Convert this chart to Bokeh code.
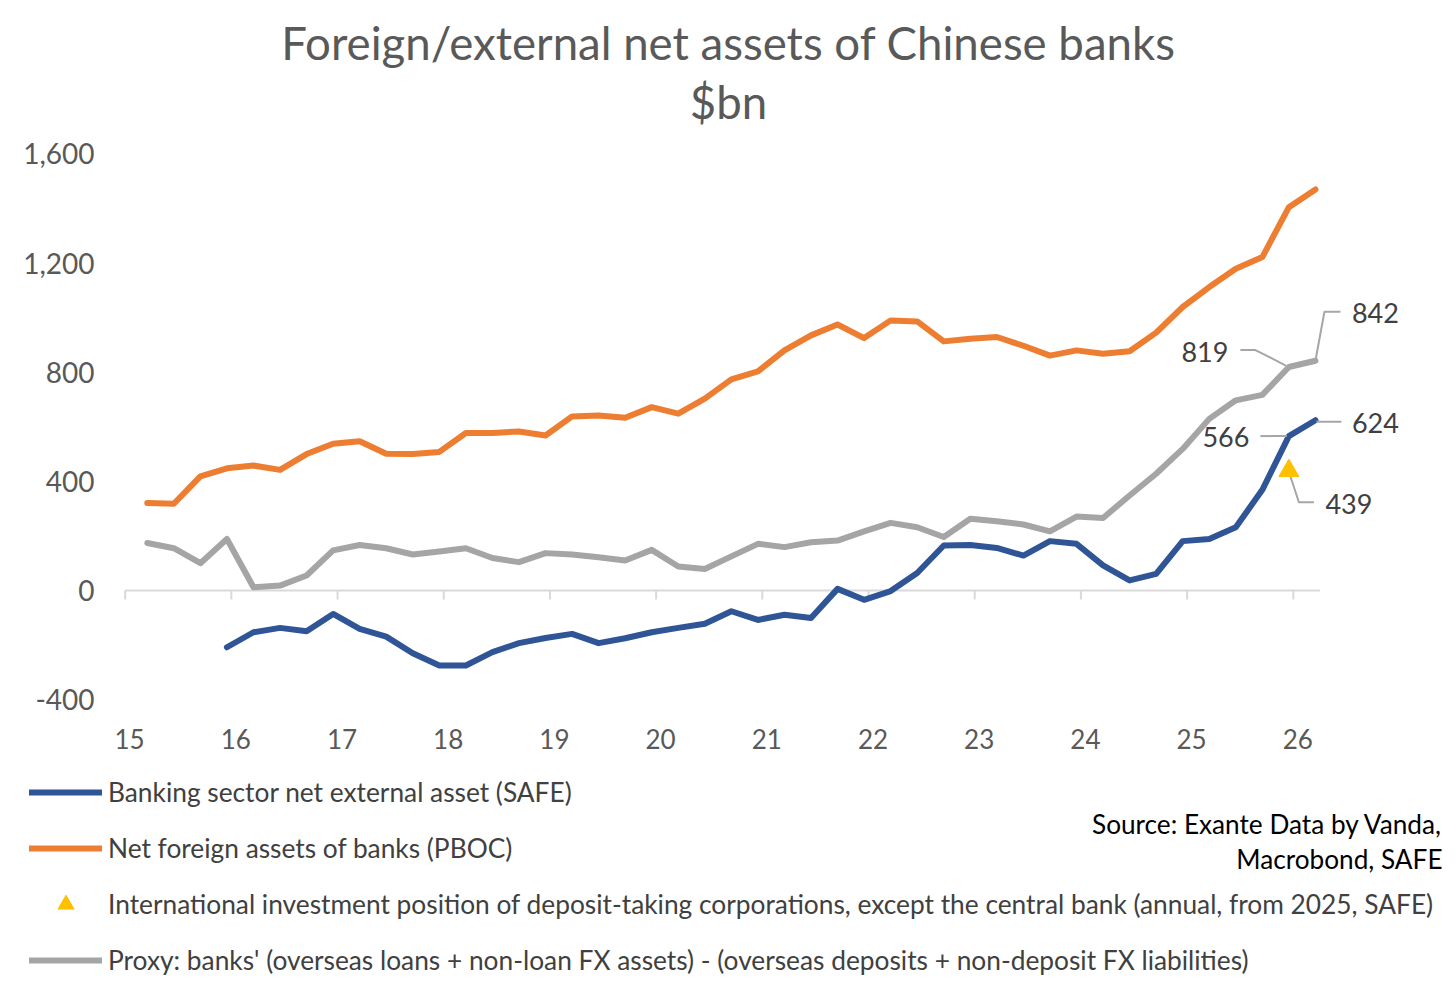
from bokeh.plotting import figure
from bokeh.models import (Range1d, FixedTicker, NumeralTickFormatter, CustomJSTickFormatter,
                          Legend, LegendItem, Label)
from bokeh.embed import file_html
from bokeh.resources import INLINE

# ---- data (quarter ends, $bn) ----
quarters = [f"{y}Q{q}" for y in range(2015, 2027) for q in (1, 2, 3, 4)][:45]  # 2015Q1 .. 2026Q1

pboc = [321, 318, 418, 448, 458, 442, 500, 538, 547, 501, 500, 508, 577, 577, 583,
        568, 638, 641, 633, 672, 648, 703, 774, 803, 880, 935, 975, 925, 990, 986,
        913, 923, 929, 897, 861, 880, 868, 877, 945, 1039, 1112, 1179, 1222, 1405, 1470]

proxy = [174, 155, 100, 189, 12, 18, 55, 147, 167, 155, 132, 143, 155, 119, 104,
         137, 132, 122, 110, 149, 88, 79, 125, 171, 159, 177, 183, 217, 248, 232,
         196, 263, 254, 242, 217, 271, 266, 348, 428, 519, 629, 697, 717, 819, 842]

safe_quarters = quarters[3:]  # from 2015Q4
safe = [-208, -153, -137, -149, -86, -141, -169, -230, -275, -275, -226, -193, -174, -159,
        -193, -175, -153, -137, -122, -76, -108, -89, -101, 6, -34, -2, 64, 165,
        167, 156, 128, 181, 171, 92, 37, 61, 181, 189, 232, 369, 566, 624]

iip_quarters = ["2025Q4"]
iip = [439]

tick_years = ["15", "16", "17", "18", "19", "20", "21", "22", "23", "24", "25", "26"]
y_ticks = [-400, 0, 400, 800, 1200, 1600]

labels = [
    "Banking sector net external asset (SAFE)",
    "Net foreign assets of banks (PBOC)",
    "International investment position of deposit-taking corporations, except the central bank (annual, from 2025, SAFE)",
    "Proxy: banks' (overseas loans + non-loan FX assets) - (overseas deposits + non-deposit FX liabilities)",
]
title_lines = ["Foreign/external net assets of Chinese banks", "$bn"]
source_lines = ["Source: Exante Data by Vanda,", "Macrobond, SAFE"]


def qpos(label):
    # middle of the quarter's last month, in years since 2000
    return int(label[:4]) - 2000 + (3 * int(label[-1]) - 0.5) / 12


def qend(label):
    return int(label[:4]) - 2000 + 3 * int(label[-1]) / 12


x_all = [qpos(q) for q in quarters]
x_safe = [qpos(q) for q in safe_quarters]
x_iip = [qpos(q) for q in iip_quarters]

BLUE = "#2F5597"
ORANGE = "#ED7D31"
GREY = "#A5A5A5"
GOLD = "#FFC000"
TEXT = "#595959"
FONT = "Lato"
W = 1450

FRAME_W, FRAME_H = 1330, 575
X0, X1 = 14.862, 27.386
Y0, Y1 = -458.1, 1649.25
px_x = (X1 - X0) / FRAME_W
px_y = (Y1 - Y0) / FRAME_H


def blank(height):
    f = figure(width=W, height=height, x_range=Range1d(-1, 0), y_range=Range1d(-1, 0),
               x_axis_type=None, y_axis_type=None, title=None,
               output_backend="svg", toolbar_location=None,
               min_border=0, outline_line_color=None)
    f.xgrid.visible = False
    f.ygrid.visible = False
    return f


# ---- header with the two title lines ----
head = blank(130)
for ty, txt in zip([88, 29], title_lines):
    head.add_layout(Label(x=728, y=ty, x_units="screen", y_units="screen", text=txt,
                          text_align="center", text_baseline="middle",
                          text_font=FONT, text_font_size="45.6px", text_color=TEXT))

# ---- main chart ----
p = figure(width=W, height=625, x_range=Range1d(X0, X1), y_range=Range1d(Y0, Y1),
           title=None, output_backend="svg", toolbar_location=None,
           min_border_left=110, min_border_right=10, min_border_top=10, min_border_bottom=40)
p.outline_line_color = None
p.xgrid.visible = False
p.ygrid.visible = False

p.xaxis.ticker = FixedTicker(ticks=[int(t) + 0.042 for t in tick_years])
p.xaxis.formatter = CustomJSTickFormatter(code="return Math.floor(tick).toString()")
p.yaxis.ticker = FixedTicker(ticks=y_ticks)
p.yaxis.formatter = NumeralTickFormatter(format="0,0")
for ax in (p.xaxis, p.yaxis):
    ax.axis_line_color = None
    ax.major_tick_line_color = None
    ax.minor_tick_line_color = None
    ax.major_tick_out = 0
    ax.major_tick_in = 0
    ax.major_label_text_font = FONT
    ax.major_label_text_color = TEXT
p.xaxis.major_label_text_font_size = "26px"
p.yaxis.major_label_text_font_size = "28px"
p.xaxis.major_label_standoff = 13
p.yaxis.major_label_standoff = 16

# zero line acting as the category axis
axis_start = int(tick_years[0])
axis_end = qend(quarters[-1])
p.line([axis_start, axis_end], [0, 0], line_color="#D9D9D9", line_width=2)
tick_x = [int(t) for t in tick_years]
p.segment(x0=tick_x, y0=[0] * len(tick_x), x1=tick_x, y1=[-9 * px_y] * len(tick_x),
          line_color="#D9D9D9", line_width=2)

line_kw = dict(line_width=6, line_join="round", line_cap="round")
p.line(x_safe, safe, line_color=BLUE, **line_kw)
p.line(x_all, pboc, line_color=ORANGE, **line_kw)

# data-label leaders (pixel offsets from the point)
notes = [
    (x_all[-1], proxy[-1], 60, -48, [(0, 0), (9, -49), (25, -49)]),
    (x_all[-2], proxy[-2], -84, -15, [(-3, -1.5), (-33.5, -17), (-48.5, -17)]),
    (x_safe[-1], safe[-1], 60, 3, [(1, 1.5), (26, 1.5)]),
    (x_safe[-2], safe[-2], -63, 1, [(-28.5, 0), (-2, 0)]),
    (x_iip[0], iip[0], 60, 33, [(0, 1), (10, 31.5), (25, 31.5)]),
]
for nx, ny, dx, dy, pts in notes:
    p.line([nx + a * px_x for a, b in pts], [ny - b * px_y for a, b in pts],
           line_color="#A6A6A6", line_width=2)

p.scatter(x_iip, iip, marker="triangle", size=20, color=GOLD)
p.line(x_all, proxy, line_color=GREY, **line_kw)

p.text(x=[nx + dx * px_x for nx, ny, dx, dy, pts in notes],
       y=[ny - dy * px_y for nx, ny, dx, dy, pts in notes],
       text=[str(int(ny)) for nx, ny, dx, dy, pts in notes],
       text_align="center", text_baseline="middle",
       text_font={"value": FONT}, text_font_size="27px", text_color="#404040")

# ---- footer: legend and source ----
foot = blank(225)
# legend swatches drawn from the same series (they fall outside this panel's ranges)
g_safe = foot.line(x_safe, safe, line_color=BLUE, **line_kw)
g_pboc = foot.line(x_all, pboc, line_color=ORANGE, **line_kw)
g_iip = foot.scatter(x_iip, iip, marker="triangle", size=20, color=GOLD)
g_proxy = foot.line(x_all, proxy, line_color=GREY, **line_kw)

legend = Legend(items=[LegendItem(label=lab, renderers=[r])
                       for lab, r in zip(labels, [g_safe, g_pboc, g_iip, g_proxy])],
                location=(29, 0), orientation="vertical",
                padding=0, margin=0, spacing=16,
                glyph_width=73, glyph_height=40, label_height=40, label_standoff=6,
                border_line_color=None, background_fill_alpha=0,
                label_text_font=FONT, label_text_font_size="26.3px", label_text_color="#404040")
foot.add_layout(legend, "center")

for sy, txt in zip([157, 122], source_lines):
    foot.add_layout(Label(x=1442, y=sy, x_units="screen", y_units="screen", text=txt,
                          text_align="right", text_baseline="middle",
                          text_font=FONT, text_font_size="26.2px", text_color="#000000"))

# three separate roots stacked on the page (a column would align their frames)
open("out.html", "w").write(file_html([head, p, foot], INLINE))
